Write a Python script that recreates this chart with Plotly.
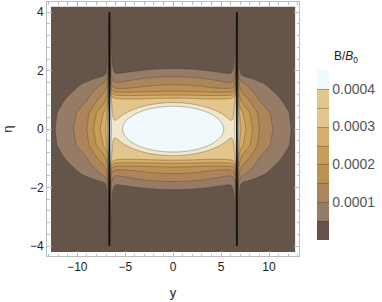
import numpy as np
import plotly.graph_objects as go

# ---- values ----
WIRE_Y = 6.65                      # |y| position of the two wires
WIRE_ETA = [-4.0, 4.0]             # vertical extent of the wires

# between the wires: level vs eta at y = 0 (horizontal bands)
BAND_ETA = [0.0, 0.6, 1.04, 1.15, 1.26, 1.38, 1.52, 1.84, 2.3, 3.0, 4.3]
BAND_VAL = [3.3e-4, 3.2e-4, 3.0e-4, 2.5e-4, 2.0e-4, 1.5e-4, 1.0e-4, 0.5e-4, 0.22e-4, 0.12e-4, 0.08e-4]

# central ellipse: value vs normalised radius, semi-axes
ELL_AY, ELL_AETA = 5.2, 0.78
ELL_RHO = [0.0, 0.5, 1.0, 1.16, 1.3, 1.6, 3.0]
ELL_VAL = [6e-4, 5.2e-4, 4e-4, 3.45e-4, 2.9e-4, 2.0e-4, 0.0]

# outside the wires: value vs distance from wire at eta = 0
OUT_D = [0.0, 0.45, 0.95, 1.65, 2.35, 3.75, 5.65, 7.0]
OUT_VAL = [3.2e-4, 2.85e-4, 2.5e-4, 2.0e-4, 1.5e-4, 1.0e-4, 0.5e-4, 0.3e-4]
# vertical fall-off factor outside
OUT_ETA = [0.0, 0.55, 0.77, 1.1, 1.4, 1.57, 1.75, 1.9, 2.2, 4.3]
OUT_FAC = [1.0, 0.91, 0.77, 0.6, 0.45, 0.37, 0.22, 0.12, 0.05, 0.02]

# strength of the narrow spike along each wire
SPIKE_ETA = [0.0, 1.0, 2.0, 3.0, 3.5, 3.9, 4.0, 4.3]
SPIKE_K = [2.5e-5, 2.3e-5, 2.4e-5, 1.6e-5, 0.8e-5, 0.15e-5, 0.0, 0.0]
SPIKE_DECAY = 0.25
INNER_TAIL = 0.15e-4
INNER_DECAY = 0.6

LEVEL_START, LEVEL_END, LEVEL_STEP = 0.00005, 0.0004, 0.00005
CB_TICKS = [0.0001, 0.0002, 0.0003, 0.0004]
CB_TEXT = ["0.0001", "0.0002", "0.0003", "0.0004"]
BAND_COLORS = ["rgb(100,84,74)", "rgb(150,124,102)", "rgb(172,134,90)", "rgb(187,145,84)",
               "rgb(201,157,88)", "rgb(214,173,105)", "rgb(227,198,140)", "rgb(241,231,203)",
               "rgb(240,250,253)"]

# ---- field ----
y = np.linspace(-12.75, 12.75, 460)
eta = np.linspace(-4.2, 4.2, 300)
Y, E = np.meshgrid(y, eta)
AE = np.abs(E)
d = np.abs(np.abs(Y) - WIRE_Y)
inside = np.abs(Y) < WIRE_Y

B = np.interp(AE, BAND_ETA, BAND_VAL)
rho = np.sqrt((Y / ELL_AY) ** 2 + (E / ELL_AETA) ** 2)
C = np.interp(rho, ELL_RHO, ELL_VAL)
fac = np.interp(AE, OUT_ETA, OUT_FAC)
p = 12
zin = (B ** p + C ** p) ** (1.0 / p) + INNER_TAIL * np.exp(-d / INNER_DECAY) * fac
zout = np.interp(d, OUT_D, OUT_VAL) * fac
spike = np.interp(AE, SPIKE_ETA, SPIKE_K) / (d + 0.005) * np.exp(-d / SPIKE_DECAY)
Z = np.where(inside, zin, zout) + spike

# step colour scale (band k coloured at its midpoint)
n = 8
cs = []
for k in range(7):
    cs += [[k / n, BAND_COLORS[k]], [(k + 1) / n, BAND_COLORS[k]]]
cs += [[7 / n, BAND_COLORS[7]], [0.99, BAND_COLORS[7]], [0.995, BAND_COLORS[8]], [1.0, BAND_COLORS[8]]]

FONT = "Liberation Sans, Arial"
fig = go.Figure()
fig.add_trace(go.Contour(
    x=y, y=eta, z=Z,
    zmin=0, zmax=0.00045,
    autocontour=False,
    contours=dict(start=LEVEL_START, end=LEVEL_END, size=LEVEL_STEP, coloring="fill"),
    colorscale=cs,
    line=dict(color="rgba(70,60,50,0.45)", width=0.8, smoothing=0.6),
    colorbar=dict(
        x=1.071, xanchor="left", xpad=0, ypad=0, thickness=12, len=0.669, lenmode="fraction",
        y=0.398, yanchor="middle", outlinewidth=0, ticks="", ticklen=0,
        tickvals=CB_TICKS, ticktext=CB_TEXT,
        tickfont=dict(family=FONT, size=14, color="#555"),
    ),
    hoverinfo="skip",
))
for s in (-1, 1):
    fig.add_trace(go.Scatter(x=[s * WIRE_Y, s * WIRE_Y], y=WIRE_ETA, mode="lines",
                             line=dict(color="#111", width=1.7), showlegend=False, hoverinfo="skip"))

axis_common = dict(showgrid=False, zeroline=False, showline=True, linecolor="#bdbdbd", linewidth=1,
                   mirror="ticks", ticks="inside", ticklen=5, tickcolor="#bdbdbd", automargin=False,
                   tickfont=dict(family=FONT, size=12, color="#222"))
fig.update_xaxes(range=[-13.16, 13.13], tickvals=[-10, -5, 0, 5, 10],
                 ticktext=["\u221210", "\u22125", "0", "5", "10"],
                 minor=dict(dtick=1, tick0=0, ticks="inside", ticklen=2.5, tickcolor="#bdbdbd"),
                 title=dict(text="y", font=dict(family=FONT, size=13, color="#222"), standoff=14),
                 **axis_common)
fig.update_yaxes(range=[-4.34, 4.35], tickvals=[-4, -2, 0, 2, 4],
                 ticktext=["\u22124", "\u22122", "0", "2", "4"],
                 minor=dict(dtick=0.4, tick0=0, ticks="inside", ticklen=2.5, tickcolor="#bdbdbd"),
                 title=dict(text="\u03b7", font=dict(family=FONT, size=13, color="#222"), standoff=14),
                 **axis_common)
fig.add_annotation(xref="paper", yref="paper", x=1.187, y=0.783, xanchor="center", yanchor="middle",
                   showarrow=False,
                   text="B/<i>B</i><sub>0</sub>", font=dict(family=FONT, size=12, color="#222"))
fig.update_layout(width=382, height=302, margin=dict(l=47, r=83, t=2, b=46, autoexpand=False),
                  plot_bgcolor="white", paper_bgcolor="white", showlegend=False)
fig.write_html("out.html", config={"displayModeBar": False},
               post_script="document.body.style.margin='0';document.body.style.padding='0';")
